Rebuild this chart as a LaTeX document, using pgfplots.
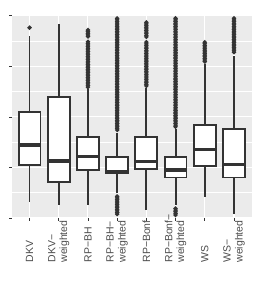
\documentclass[border=0pt]{standalone}
\usepackage{pgfplots}
\pgfplotsset{compat=1.18}
\usepgfplotslibrary{statistics}
\usepackage{fontspec}
\setmainfont{Liberation Sans}
\definecolor{panel}{HTML}{EBEBEB}
\definecolor{boxc}{HTML}{333333}
\definecolor{labc}{HTML}{4D4D4D}
\pgfplotsset{
  bx/.style={draw=boxc, line width=1.9bp, solid,
    mark=*, mark size=1.05bp, mark options={fill=boxc, draw=none},
    boxplot/every box/.style={fill=white},
    boxplot/every median/.style={line width=3.4bp},
  },
}
\begin{document}
\begin{tikzpicture}
\path[use as bounding box] (-12bp,-76bp) rectangle (243.5bp,218bp);
\begin{axis}[
  at={(0,0)}, anchor=south west,
  width=239.5bp, height=202.3bp, scale only axis,
  xmin=-0.6, xmax=7.6, ymin=0, ymax=1,
  axis background/.style={fill=panel},
  axis line style={draw=none},
  xtick={0,1,2,3,4,5,6,7},
  xticklabels={DKV, {DKV−\\weighted}, RP−BH, {RP−BH−\\weighted}, RP−Bonf, {RP−Bonf−\\weighted}, WS, {WS−\\weighted}},
  ytick={0,0.25,0.5,0.75,1}, yticklabels={},
  minor ytick={0.125,0.375,0.625,0.875},
  xtick pos=bottom, ytick pos=left,
  grid=both,
  major grid style={white, line width=1.1bp},
  minor grid style={white, line width=0.55bp},
  tick style={color=boxc, line width=0.55bp},
  major tick length=2.7bp, minor tick length=0pt,
  tick align=outside,
  xticklabel style={rotate=90, anchor=west, xshift=-42bp, align=left, inner sep=0pt,
    font=\fontsize{10.5}{12}\selectfont, text=labc},
  boxplot/draw direction=y,
  boxplot/box extend=0.75,
  boxplot/draw/lower whisker/.code={\draw[/pgfplots/boxplot/every whisker/.try] (boxplot cs:\pgfplotsboxplotvalue{lower quartile}) -- (boxplot cs:\pgfplotsboxplotvalue{lower whisker});},
  boxplot/draw/upper whisker/.code={\draw[/pgfplots/boxplot/every whisker/.try] (boxplot cs:\pgfplotsboxplotvalue{upper quartile}) -- (boxplot cs:\pgfplotsboxplotvalue{upper whisker});},
]
% DKV
\addplot[bx, boxplot prepared={draw position=0, lower whisker=0.081, lower quartile=0.262, median=0.361, upper quartile=0.525, upper whisker=0.901}]
  table[row sep=\\, y index=0] {v\\ 0.941\\};
% DKV-weighted
\addplot[bx, boxplot prepared={draw position=1, lower whisker=0.064, lower quartile=0.179, median=0.282, upper quartile=0.600, upper whisker=0.959}]
  coordinates {};
% RP-BH
\addplot[bx, boxplot prepared={draw position=2, lower whisker=0.064, lower quartile=0.237, median=0.303, upper quartile=0.402, upper whisker=0.636}]
  table[row sep=\\, y index=0] {v\\ 0.929\\ 0.921\\ 0.913\\ 0.905\\ 0.897\\
  0.871\\ 0.863\\ 0.855\\ 0.847\\ 0.839\\ 0.831\\ 0.823\\ 0.815\\ 0.807\\ 0.799\\
  0.791\\ 0.783\\ 0.775\\ 0.767\\ 0.759\\ 0.751\\ 0.743\\ 0.735\\ 0.727\\ 0.719\\
  0.711\\ 0.703\\ 0.695\\ 0.687\\ 0.679\\ 0.671\\ 0.663\\ 0.655\\ 0.647\\};
% RP-BH-weighted
\addplot[bx, boxplot prepared={draw position=3, lower whisker=0.122, lower quartile=0.220, median=0.229, upper quartile=0.302, upper whisker=0.419}]
  table[row sep=\\, y index=0] {v\\
  0.987\\ 0.979\\ 0.971\\ 0.963\\ 0.955\\ 0.947\\ 0.939\\ 0.931\\ 0.923\\ 0.915\\
  0.907\\ 0.899\\ 0.891\\ 0.883\\ 0.875\\ 0.867\\ 0.859\\ 0.851\\ 0.843\\ 0.835\\
  0.827\\ 0.819\\ 0.811\\ 0.803\\ 0.795\\ 0.787\\ 0.779\\ 0.771\\ 0.763\\ 0.755\\
  0.747\\ 0.739\\ 0.731\\ 0.723\\ 0.715\\ 0.707\\ 0.699\\ 0.691\\ 0.683\\ 0.675\\
  0.667\\ 0.659\\ 0.651\\ 0.643\\ 0.635\\ 0.627\\ 0.619\\ 0.611\\ 0.603\\ 0.595\\
  0.587\\ 0.579\\ 0.571\\ 0.563\\ 0.555\\ 0.547\\ 0.539\\ 0.531\\ 0.523\\ 0.515\\
  0.507\\ 0.499\\ 0.491\\ 0.483\\ 0.475\\ 0.467\\ 0.459\\ 0.451\\ 0.443\\ 0.435\\
  0.107\\ 0.099\\ 0.091\\ 0.083\\ 0.075\\ 0.067\\ 0.059\\ 0.051\\ 0.043\\ 0.035\\ 0.027\\ 0.019\\};
% RP-Bonf
\addplot[bx, boxplot prepared={draw position=4, lower whisker=0.040, lower quartile=0.240, median=0.279, upper quartile=0.402, upper whisker=0.641}]
  table[row sep=\\, y index=0] {v\\
  0.967\\ 0.959\\ 0.951\\ 0.943\\ 0.935\\ 0.927\\ 0.919\\ 0.911\\ 0.903\\ 0.895\\
  0.869\\ 0.861\\ 0.853\\ 0.845\\ 0.837\\ 0.829\\ 0.821\\ 0.813\\ 0.805\\ 0.797\\
  0.789\\ 0.781\\ 0.773\\ 0.765\\ 0.757\\ 0.749\\ 0.741\\ 0.733\\ 0.725\\ 0.717\\
  0.709\\ 0.701\\ 0.693\\ 0.685\\ 0.677\\ 0.669\\ 0.661\\ 0.653\\};
% RP-Bonf-weighted
\addplot[bx, boxplot prepared={draw position=5, lower whisker=0.064, lower quartile=0.200, median=0.238, upper quartile=0.302, upper whisker=0.438}]
  table[row sep=\\, y index=0] {v\\
  0.987\\ 0.979\\ 0.971\\ 0.963\\ 0.955\\ 0.947\\ 0.939\\ 0.931\\ 0.923\\ 0.915\\
  0.907\\ 0.899\\ 0.891\\ 0.883\\ 0.875\\ 0.867\\ 0.859\\ 0.851\\ 0.843\\ 0.835\\
  0.827\\ 0.819\\ 0.811\\ 0.803\\ 0.795\\ 0.787\\ 0.779\\ 0.771\\ 0.763\\ 0.755\\
  0.747\\ 0.739\\ 0.731\\ 0.723\\ 0.715\\ 0.707\\ 0.699\\ 0.691\\ 0.683\\ 0.675\\
  0.667\\ 0.659\\ 0.651\\ 0.643\\ 0.635\\ 0.627\\ 0.619\\ 0.611\\ 0.603\\ 0.595\\
  0.587\\ 0.579\\ 0.571\\ 0.563\\ 0.555\\ 0.547\\ 0.539\\ 0.531\\ 0.523\\ 0.515\\
  0.507\\ 0.499\\ 0.491\\ 0.483\\ 0.475\\ 0.467\\ 0.459\\ 0.451\\
  0.047\\ 0.039\\ 0.031\\ 0.023\\ 0.015\\};
% WS
\addplot[bx, boxplot prepared={draw position=6, lower whisker=0.102, lower quartile=0.258, median=0.340, upper quartile=0.460, upper whisker=0.761}]
  table[row sep=\\, y index=0] {v\\
  0.869\\ 0.861\\ 0.853\\ 0.845\\ 0.837\\ 0.829\\ 0.821\\ 0.813\\ 0.805\\ 0.797\\
  0.789\\ 0.781\\ 0.773\\};
% WS-weighted
\addplot[bx, boxplot prepared={draw position=7, lower whisker=0.020, lower quartile=0.200, median=0.264, upper quartile=0.440, upper whisker=0.801}]
  table[row sep=\\, y index=0] {v\\
  0.987\\ 0.979\\ 0.971\\ 0.963\\ 0.955\\ 0.947\\ 0.939\\ 0.931\\ 0.923\\ 0.915\\
  0.907\\ 0.899\\ 0.891\\ 0.883\\ 0.875\\ 0.867\\ 0.859\\ 0.851\\ 0.843\\ 0.835\\
  0.827\\ 0.819\\};
\end{axis}
\end{tikzpicture}
\end{document}
